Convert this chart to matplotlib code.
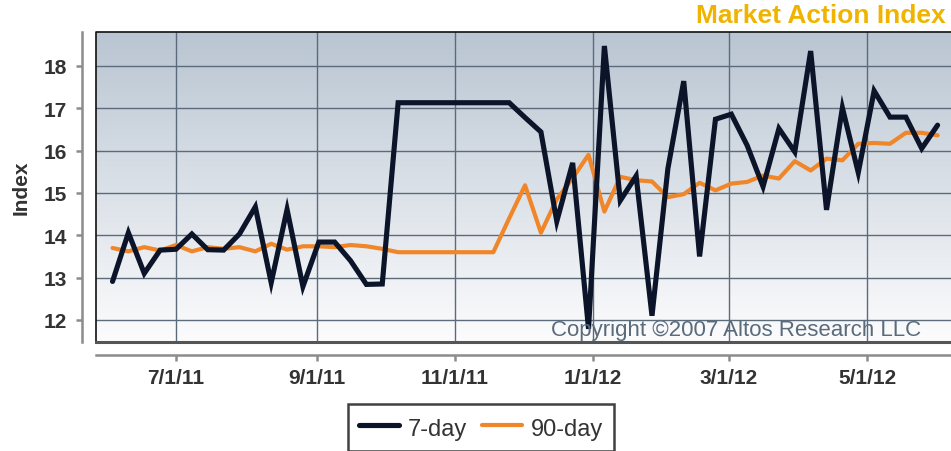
import numpy as np
import pandas as pd
import matplotlib
matplotlib.use("Agg")
import matplotlib.pyplot as plt
import matplotlib.dates as mdates
from matplotlib.colors import LinearSegmentedColormap

# ---- data ----
dates = pd.date_range("2011-06-03", periods=53, freq="7D")
seven_day = [12.91, 14.06, 13.10, 13.65, 13.67, 14.03, 13.66, 13.65, 14.03, 14.67,
             12.88, 14.61, 12.79, 13.84, 13.84, 13.40, 12.84, 12.85, 17.13, 17.13,
             17.13, 17.13, 17.13, 17.13, 17.13, 17.13, 16.78, 16.44, 14.33, 15.71,
             11.79, 18.47, 14.82, 15.40, 12.10, 15.57, 17.64, 13.50, 16.74, 16.86,
             16.12, 15.15, 16.52, 15.97, 18.35, 14.60, 17.01, 15.48, 17.41, 16.79,
             16.79, 16.05, 16.60]
ninety_day = [13.70, 13.62, 13.72, 13.64, 13.77, 13.62, 13.72, 13.68, 13.72, 13.62,
              13.80, 13.66, 13.74, 13.74, 13.72, 13.77, 13.74, 13.68, 13.60, 13.60,
              13.60, 13.60, 13.60, 13.60, 13.60, 14.40, 15.18, 14.06, 14.85, 15.35,
              15.90, 14.56, 15.38, 15.30, 15.27, 14.90, 14.97, 15.24, 15.06, 15.22,
              15.26, 15.41, 15.34, 15.75, 15.53, 15.81, 15.77, 16.16, 16.18, 16.16,
              16.42, 16.42, 16.36]
series_labels = ["7-day", "90-day"]
title = "Market Action Index"
copyright_text = "Copyright \u00a92007 Altos Research LLC"

W, H = 951, 452
fig = plt.figure(figsize=(W / 100, H / 100), dpi=100)
plt.rcParams["font.family"] = ["Liberation Sans", "DejaVu Sans"]

ax = fig.add_axes([96 / W, (H - 343) / H, 855 / W, 310 / H])

# gradient background
cmap = LinearSegmentedColormap.from_list("bg", ["#fcfcfd", "#b9c5d2"])
grad = np.linspace(0, 1, 256).reshape(-1, 1)
ax.imshow(grad, cmap=cmap, aspect="auto", extent=[0, 1, 0, 1],
          transform=ax.transAxes, origin="lower", zorder=0)

ax.plot(dates, ninety_day, color="#f0862a", lw=3.0, solid_capstyle="round",
        solid_joinstyle="round", zorder=3, label=series_labels[1])
ax.plot(dates, seven_day, color="#0b1428", lw=3.7, solid_capstyle="round",
        solid_joinstyle="miter", zorder=4, label=series_labels[0])

ax.set_ylim(11.48, 18.8)
ax.set_xlim(mdates.date2num(pd.Timestamp("2011-05-26 17:00")),
            mdates.date2num(pd.Timestamp("2012-06-06 22:00")))
ax.set_yticks(range(12, 19))
ax.xaxis.set_major_locator(mdates.MonthLocator(bymonth=[1, 3, 5, 7, 9, 11]))
ax.xaxis.set_major_formatter(plt.FuncFormatter(
    lambda v, p: "{d.month}/{d.day}/{y}".format(d=mdates.num2date(v), y=mdates.num2date(v).strftime("%y"))))

ax.grid(True, color="#5b6b7b", lw=1.0, zorder=1)
ax.set_axisbelow(False)
for gl in ax.get_xgridlines() + ax.get_ygridlines():
    gl.set_zorder(1)

# offset gray axes
for s in ["top", "right"]:
    ax.spines[s].set_visible(False)
ax.spines["left"].set_position(("outward", 10.1))
ax.spines["bottom"].set_position(("outward", 9.4))
for s in ["left", "bottom"]:
    ax.spines[s].set_color("#8c8c8c")
    ax.spines[s].set_linewidth(1.8)
ax.tick_params(axis="both", colors="#8c8c8c", length=4, width=1.8)
ax.tick_params(axis="y", pad=7)
ax.tick_params(axis="x", pad=5)
for lab in ax.get_xticklabels() + ax.get_yticklabels():
    lab.set_color("#333333")
    lab.set_fontweight("bold")
    lab.set_fontsize(15)

# frame of plot area
ax.plot([0, 0, 1], [0, 1, 1], transform=ax.transAxes, color="#111111", lw=1.2,
        clip_on=False, zorder=5)
ax.plot([0, 1], [0, 0], transform=ax.transAxes, color="#555555", lw=2.2,
        clip_on=False, zorder=5)

ax.set_ylabel("Index", fontsize=15, fontweight="bold", color="#333333", labelpad=9)

ax.text(0.965, 0.005, copyright_text, transform=ax.transAxes, ha="right", va="bottom",
        fontsize=16, color="#5a6b7b", zorder=6)

fig.text(946 / W, 1 - 4 / H, title, ha="right", va="top", fontsize=19, fontweight="bold",
         color="#f0b400", family=["Liberation Sans Narrow", "Liberation Sans", "DejaVu Sans"])

handles, labels = ax.get_legend_handles_labels()
leg = fig.legend(handles[::-1], labels[::-1], loc="upper center",
                 bbox_to_anchor=(481 / W, 1 - 405 / H), ncol=2, fontsize=17,
                 frameon=True, fancybox=False, edgecolor="#111111",
                 handlelength=1.7, handletextpad=0.4, columnspacing=0.6,
                 handleheight=1.3, borderpad=0.45, borderaxespad=0)
leg.get_frame().set_linewidth(1.8)
for t in leg.get_texts():
    t.set_color("#333333")

fig.savefig("out.png", dpi=100)
